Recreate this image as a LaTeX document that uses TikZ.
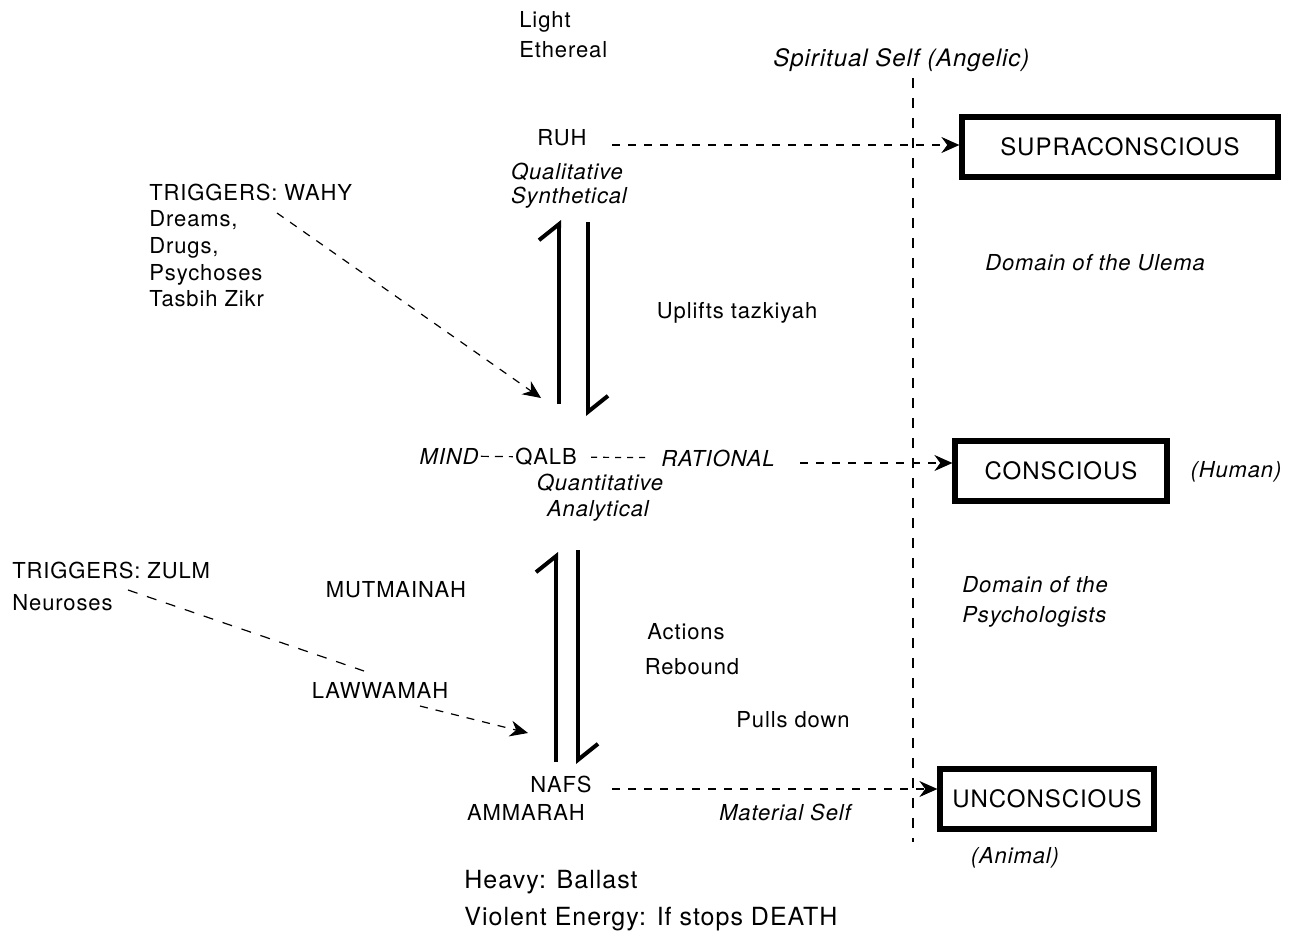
\documentclass[tikz,border=0pt]{standalone}
\usepackage{fontspec}
\setmainfont{TeX Gyre Heros}[LetterSpace=4]
\usetikzlibrary{arrows.meta}
\tikzset{>=Stealth,every node/.style={font=\fontsize{11}{13}\selectfont,inner sep=1pt},
  it/.style={font=\fontsize{11}{13}\selectfont\itshape},
  big/.style={font=\fontsize{12.5}{15}\selectfont},
  lvl/.style={draw,line width=2.6pt,font=\fontsize{12}{14}\selectfont,minimum height=30pt},
  link/.style={dashed,dash pattern=on 4pt off 4pt,line width=.6pt,-{Stealth[length=9pt,width=8pt]}},
  harp/.style={line width=2.2pt,-{Straight Barb[left,length=8pt,width=20pt,line width=2pt]}},
  border/.style={dashed,dash pattern=on 5pt off 5pt,line width=.6pt}}

\begin{document}
\begin{tikzpicture}[x=.5pt,y=-.5pt]
\useasboundingbox (0,0) rectangle (1301,937);
% upper part
\node[anchor=west] (light) at (517,22) {Light};
\node[anchor=west] (ether) at (517,50) {Ethereal};
\node[it,anchor=west,font=\fontsize{12}{14}\selectfont\itshape] (spirit) at (771,60) {Spiritual Self (Angelic)};
\node (ruh) at (562,138) {RUH};
\node[it] (qual) at (567,172) {Qualitative};
\node[it] (synth) at (569,198) {Synthetical};
\node[lvl,minimum width=158pt] (supra) at (1120,147) {SUPRACONSCIOUS};
\node[anchor=west] (wahy) at (147,192) {TRIGGERS: WAHY};
\node[anchor=north west,align=left] (dreams) at (147,208) {Dreams,\\[.4pt]Drugs,\\[.4pt]Psychoses\\[.4pt]Tasbih Zikr};
\node (uplift) at (737,313) {Uplifts tazkiyah};
\node[it] (ulema) at (1095,263) {Domain of the Ulema};
% middle
\node (qalb) at (546,457) {QALB};
\node[it] (mind) at (449,456) {MIND};
\node[it] (rational) at (718,458) {RATIONAL};
\node[it] (quant) at (600,483) {Quantitative};
\node[it] (anal) at (598,511) {Analytical};
\node[lvl,minimum width=106pt] (conscious) at (1061,471) {CONSCIOUS};
\node[it] (human) at (1236,472) {(Human)};
% lower part
\node[anchor=west] (zulm) at (10,570) {TRIGGERS: ZULM};
\node[anchor=west] (neur) at (10,603) {Neuroses};
\node (mutm) at (396,590) {MUTMAINAH};
\node (laww) at (380,690) {LAWWAMAH};
\node (actions) at (686,632) {Actions};
\node (rebound) at (692,667) {Rebound};
\node (pulls) at (793,720) {Pulls down};
\node[it,anchor=west,align=left] (psych) at (960,602) {Domain of the\\[2pt]Psychologists};
\node (nafs) at (561,784) {NAFS};
\node (ammarah) at (526,812) {AMMARAH};
\node[it] (matself) at (785,812) {Material Self};
\node[lvl,minimum width=107pt] (uncons) at (1047,799) {UNCONSCIOUS};
\node[it] (animal) at (1015,858) {(Animal)};
\node[big,anchor=west] (heavy) at (462,882) {Heavy: Ballast};
\node[big,anchor=west] (violent) at (462,919) {Violent Energy: If stops DEATH};
% ends of the free lines
\coordinate (top) at (913,78);
\coordinate (bot) at (913,842);
\coordinate (upL1) at (559,404);\coordinate (upL2) at (559,220);
\coordinate (upR1) at (588,222);\coordinate (upR2) at (588,416);
\coordinate (loL1) at (556,762);\coordinate (loL2) at (556,552);
\coordinate (loR1) at (578,550);\coordinate (loR2) at (578,764);
\coordinate (wahystart) at (277,213);
\coordinate (wahyhit) at (541,398);
\coordinate (zulmstart) at (128,590);
\coordinate (zulmend) at (364,671);
\coordinate (lawwstart) at (420,706);
\coordinate (lawwhit) at (528,733);
\coordinate (ruhout) at (612,145);
\coordinate (ratout) at (800,463);
\coordinate (nafsout) at (612,789);

\draw[border] (top) -- (bot);
\draw[harp] (upL1) -- (upL2);
\draw[harp] (upR1) -- (upR2);
\draw[harp] (loL1) -- (loL2);
\draw[harp] (loR1) -- (loR2);
\draw[link] (ruhout) -- (ruhout -| supra.west);
\draw[link] (ratout) -- (ratout -| conscious.west);
\draw[link] (nafsout) -- (nafsout -| uncons.west);
\draw[link] (wahystart) -- (wahyhit);
\draw[border,dash pattern=on 4pt off 3pt] (mind) -- (qalb);
\draw[border,dash pattern=on 3pt off 3pt,shorten <=6pt,shorten >=4pt] (qalb) -- (rational);
\draw[border,dash pattern=on 5pt off 5pt] (zulmstart) -- (zulmend);
\draw[link] (lawwstart) -- (lawwhit);
\end{tikzpicture}
\end{document}
